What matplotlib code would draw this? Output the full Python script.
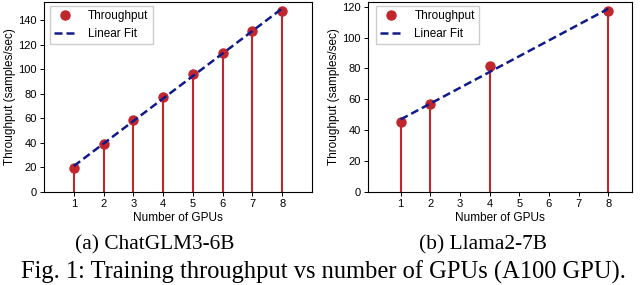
import numpy as np
import matplotlib

matplotlib.use("Agg")
import matplotlib.pyplot as plt

# ChatGLM3-6B
glm_gpus = [1, 2, 3, 4, 5, 6, 7, 8]
glm_tput = [19.5, 39, 58.5, 77.5, 96.5, 113.5, 131, 148]
# Llama2-7B
llama_gpus = [1, 2, 4, 8]
llama_tput = [45, 57, 81.5, 117]

sub_captions = ["(a) ChatGLM3-6B", "(b) Llama2-7B"]
fig_caption = "Fig. 1: Training throughput vs number of GPUs (A100 GPU)."

plt.rcParams["font.family"] = ["Liberation Sans", "DejaVu Sans"]
plt.rcParams["font.size"] = 8

RED = "#c0262c"
NAVY = "#111a8c"

fig = plt.figure(figsize=(6.4, 2.85), dpi=100)
W, H = 640, 285
ax_boxes = [
    (44, 2, 312, 192),
    (368, 2, 632, 192),
]
settings = [
    (glm_gpus, glm_tput, (0, 9), (0, 155), [0, 20, 40, 60, 80, 100, 120, 140], 0.022),
    (llama_gpus, llama_tput, (-0.1, 8.8), (0, 123), [0, 20, 40, 60, 80, 100, 120], 0.03),
]

for (x0, y0, x1, y1), (xs, ys, xlim, ylim, yticks, lx) in zip(ax_boxes, settings):
    ax = fig.add_axes([x0 / W, 1 - y1 / H, (x1 - x0) / W, (y1 - y0) / H])
    ax.vlines(xs, 0, ys, color=RED, linewidth=1.5, zorder=2)
    ax.plot(xs, ys, "o", color=RED, markersize=6.5, label="Throughput", zorder=3)
    slope, icpt = np.polyfit(xs, ys, 1)
    fx = np.array([xs[0], xs[-1]])
    ax.plot(fx, slope * fx + icpt, "--", color=NAVY, linewidth=1.8,
            dashes=(3.2, 1.6), label="Linear Fit", zorder=4)
    ax.set_xlim(*xlim)
    ax.set_ylim(*ylim)
    ax.set_xticks(range(1, 9))
    ax.set_yticks(yticks)
    ax.tick_params(length=3, width=0.7, pad=2, labelsize=8)
    for sp in ax.spines.values():
        sp.set_linewidth(0.8)
    ax.set_xlabel("Number of GPUs", labelpad=2, fontsize=8.5)
    ax.set_ylabel("Throughput (samples/sec)", labelpad=2, fontsize=8.5)
    ax.legend(loc="upper left", bbox_to_anchor=(lx, 0.979), borderaxespad=0,
              fontsize=8.5, frameon=True, fancybox=False,
              edgecolor="#cccccc", framealpha=1, borderpad=0.35,
              handlelength=1.9, handletextpad=1.0)

serif = ["Liberation Serif", "DejaVu Serif"]
fig.text(155 / W, 1 - 245 / H, sub_captions[0], ha="center", va="center",
         family=serif, fontsize=15.4)
fig.text(482.5 / W, 1 - 245 / H, sub_captions[1], ha="center", va="center",
         family=serif, fontsize=15.4)
fig.text(323 / W, 1 - 272 / H, fig_caption, ha="center", va="center",
         family=serif, fontsize=17.65)

fig.savefig("out.png", dpi=100)
